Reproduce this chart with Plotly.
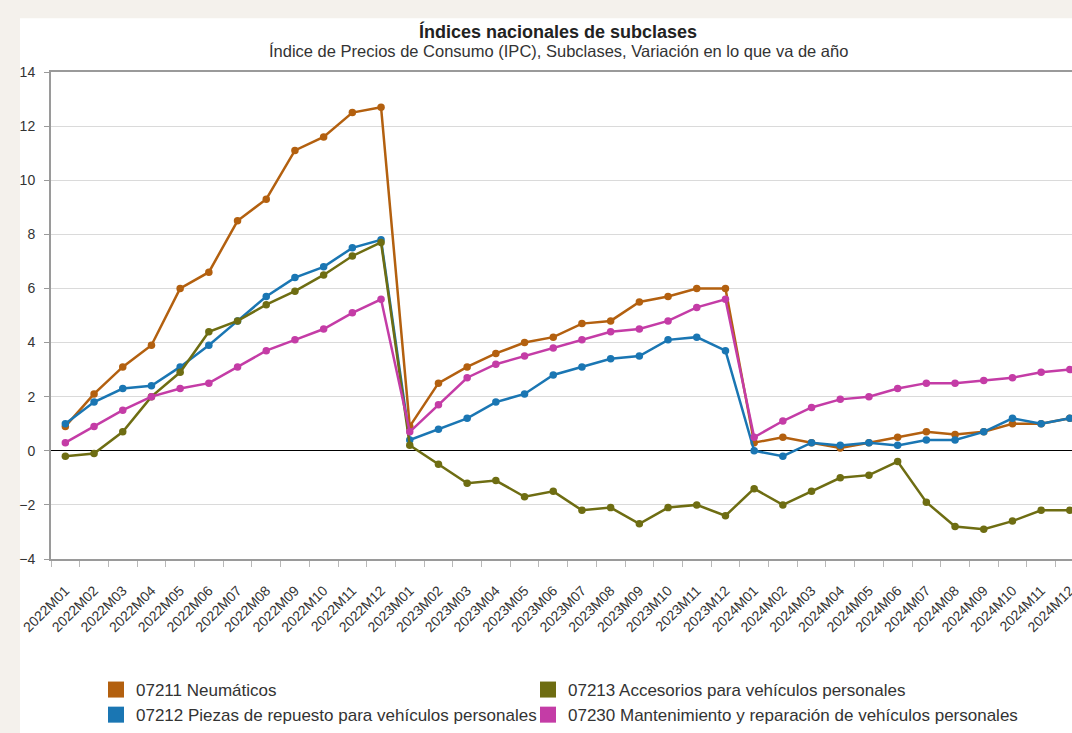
import plotly.graph_objects as go

periods = [
    "2022M01", "2022M02", "2022M03", "2022M04", "2022M05", "2022M06",
    "2022M07", "2022M08", "2022M09", "2022M10", "2022M11", "2022M12",
    "2023M01", "2023M02", "2023M03", "2023M04", "2023M05", "2023M06",
    "2023M07", "2023M08", "2023M09", "2023M10", "2023M11", "2023M12",
    "2024M01", "2024M02", "2024M03", "2024M04", "2024M05", "2024M06",
    "2024M07", "2024M08", "2024M09", "2024M10", "2024M11", "2024M12",
]

neumaticos = [0.9, 2.1, 3.1, 3.9, 6.0, 6.6, 8.5, 9.3, 11.1, 11.6, 12.5, 12.7,
              0.9, 2.5, 3.1, 3.6, 4.0, 4.2, 4.7, 4.8, 5.5, 5.7, 6.0, 6.0,
              0.3, 0.5, 0.3, 0.1, 0.3, 0.5, 0.7, 0.6, 0.7, 1.0, 1.0, 1.2]

piezas = [1.0, 1.8, 2.3, 2.4, 3.1, 3.9, 4.8, 5.7, 6.4, 6.8, 7.5, 7.8,
          0.4, 0.8, 1.2, 1.8, 2.1, 2.8, 3.1, 3.4, 3.5, 4.1, 4.2, 3.7,
          0.0, -0.2, 0.3, 0.2, 0.3, 0.2, 0.4, 0.4, 0.7, 1.2, 1.0, 1.2]

accesorios = [-0.2, -0.1, 0.7, 2.0, 2.9, 4.4, 4.8, 5.4, 5.9, 6.5, 7.2, 7.7,
              0.2, -0.5, -1.2, -1.1, -1.7, -1.5, -2.2, -2.1, -2.7, -2.1, -2.0, -2.4,
              -1.4, -2.0, -1.5, -1.0, -0.9, -0.4, -1.9, -2.8, -2.9, -2.6, -2.2, -2.2]

mantenimiento = [0.3, 0.9, 1.5, 2.0, 2.3, 2.5, 3.1, 3.7, 4.1, 4.5, 5.1, 5.6,
                 0.7, 1.7, 2.7, 3.2, 3.5, 3.8, 4.1, 4.4, 4.5, 4.8, 5.3, 5.6,
                 0.5, 1.1, 1.6, 1.9, 2.0, 2.3, 2.5, 2.5, 2.6, 2.7, 2.9, 3.0]

series_names = [
    "07211 Neumáticos",
    "07212 Piezas de repuesto para vehículos personales",
    "07213 Accesorios para vehículos personales",
    "07230 Mantenimiento y reparación de vehículos personales",
]
series_values = [neumaticos, piezas, accesorios, mantenimiento]
series_colors = ["#b3600f", "#1a76b3", "#6e6d12", "#c43ca6"]
legend_columns = ["legend", "legend", "legend2", "legend2"]

title_text = "Índices nacionales de subclases"
subtitle_text = "Índice de Precios de Consumo (IPC), Subclases, Variación en lo que va de año"

FONT = "Liberation Sans, Arial, Helvetica, sans-serif"
BEIGE = "#f4f1ec"

# pixel geometry of plot area
W, H = 1072, 733
L, R, T, B = 51, 0, 72, 171
PW = W - L - R
PH = H - T - B


def px_x(px):
    return (px - L) / PW


def px_y(py):
    return (H - B - py) / PH


fig = go.Figure()

for name, vals, col in zip(series_names, series_values, series_colors):
    fig.add_trace(go.Scatter(
        x=periods, y=vals, mode="lines+markers", name=name,
        line=dict(color=col, width=2.5),
        marker=dict(size=7.5, color=col),
        legendgroup=name, showlegend=False,
    ))

for name, col, leg in zip(series_names, series_colors, legend_columns):
    fig.add_trace(go.Scatter(
        x=[None], y=[None], mode="markers", name=name,
        marker=dict(symbol="square", size=16, color=col),
        legendgroup=name, legend=leg, showlegend=True,
    ))

fig.add_shape(
    type="rect", xref="paper", yref="paper",
    x0=px_x(20), x1=px_x(W + 20), y0=px_y(H + 20), y1=px_y(18),
    fillcolor="white", line=dict(width=0), layer="below",
)

fig.add_annotation(
    text="<b>" + title_text + "</b>", xref="paper", yref="paper",
    x=px_x(558), y=px_y(31), xanchor="center", yanchor="middle",
    showarrow=False, font=dict(family=FONT, size=18, color="#222"),
)
fig.add_annotation(
    text=subtitle_text, xref="paper", yref="paper",
    x=px_x(558), y=px_y(51), xanchor="center", yanchor="middle",
    showarrow=False, font=dict(family=FONT, size=16.5, color="#333"),
)

legend_style = dict(
    orientation="v", xanchor="left", yanchor="top",
    font=dict(family=FONT, size=17, color="#333"),
    bgcolor="rgba(0,0,0,0)", traceorder="normal",
    tracegroupgap=0,
)

fig.update_layout(
    width=W, height=H,
    margin=dict(l=L, r=R, t=T, b=B, pad=0),
    paper_bgcolor=BEIGE,
    plot_bgcolor="white",
    font=dict(family=FONT, color="#333"),
    showlegend=True,
    legend=dict(x=px_x(96), y=px_y(676), **legend_style),
    legend2=dict(x=px_x(528), y=px_y(676), **legend_style),
    xaxis=dict(
        type="category", categoryorder="array", categoryarray=periods,
        range=[-0.5, -0.5 + PW / 28.7],
        tickson="boundaries", ticks="outside", ticklen=6, tickwidth=1,
        tickcolor="#b8b8b8", tickangle=-45,
        tickfont=dict(family=FONT, size=14, color="#333"),
        showline=True, linecolor="#9a9a9a", linewidth=2, mirror=True,
        showgrid=False, zeroline=False, automargin=False,
        ticklabelstandoff=16,
    ),
    yaxis=dict(
        range=[-4, 14], dtick=2, tick0=0,
        showgrid=True, gridcolor="#dadada", gridwidth=1,
        zeroline=True, zerolinecolor="#000000", zerolinewidth=1,
        showline=True, linecolor="#9a9a9a", linewidth=2,
        ticks="outside", ticklen=5, tickcolor="#9a9a9a",
        tickfont=dict(family=FONT, size=14, color="#333"),
        ticklabelstandoff=6, automargin=False,
    ),
)

fig.write_html(
    "out.html",
    config={"displayModeBar": False},
    post_script="document.body.style.margin='0';"
                "document.body.style.background='" + BEIGE + "';"
                "document.body.style.overflow='hidden';",
)
